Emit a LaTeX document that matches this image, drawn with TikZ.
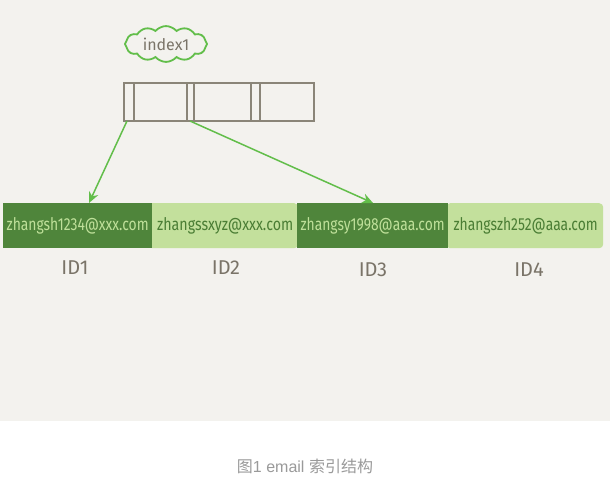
\documentclass[tikz,border=0pt]{standalone}
\usepackage{fontspec}
\setmainfont{Liberation Sans}
\newfontfamily\cjk{Noto Sans CJK SC}
\newfontfamily\hand{Fira Sans}
\usetikzlibrary{shapes.symbols,arrows.meta}
\definecolor{bgc}{HTML}{F3F2EE}
\definecolor{darkg}{HTML}{4F853B}
\definecolor{lightg}{HTML}{C3E09C}
\definecolor{txtlight}{HTML}{BFE09A}
\definecolor{txtdark}{HTML}{4A7D34}
\definecolor{arrowg}{HTML}{62BE4A}
\definecolor{boxline}{HTML}{8A8578}
\definecolor{idgray}{HTML}{7A7468}
\definecolor{capgray}{HTML}{9A9A9A}
\tikzset{
  darkcell/.style={fill=darkg, draw=none, inner sep=0pt, minimum height=45pt, anchor=north west},
  lightcell/.style={fill=lightg, draw=none, inner sep=0pt, minimum height=45pt, anchor=north west, rounded corners=4pt},
  emaild/.style={text=txtlight, font=\hand\fontsize{12}{12}\selectfont},
  emaill/.style={text=txtdark, font=\hand\fontsize{12}{12}\selectfont},
  idlabel/.style={text=idgray, font=\hand\fontsize{20}{20}\selectfont},
  cellbox/.style={draw=boxline, line width=1.8pt, inner sep=0pt, anchor=north west, minimum height=38pt},
  ptr/.style={draw=arrowg, line width=1.5pt, -{Stealth[length=11pt,width=10pt]}},
}
\begin{document}
\begin{tikzpicture}[x=1pt,y=-1pt]
\useasboundingbox (0,0) rectangle (610,489);
\fill[bgc] (0,0) rectangle (610,421);
\fill[white] (0,421) rectangle (610,489);
% index cloud
\node[cloud, cloud puffs=12, cloud puff arc=100, aspect=2.4, minimum width=82pt, minimum height=32pt, draw=arrowg, line width=1.8pt, inner sep=1pt, text=idgray, font=\hand\fontsize{16}{16}\selectfont] (cloud) at (166,44) {index1};
% index box cells
\node[cellbox, minimum width=10pt] (c1) at (123,82) {};
\node[cellbox, minimum width=53pt] (c2) at (133,82) {};
\node[cellbox, minimum width=7pt] (c3) at (186,82) {};
\node[cellbox, minimum width=57pt] (c4) at (193,82) {};
\node[cellbox, minimum width=9pt] (c5) at (250,82) {};
\node[cellbox, minimum width=54pt] (c6) at (259,82) {};
% email cells
\node[lightcell, minimum width=157pt] (r4) at (446,203) {};
\node[lightcell, minimum width=150pt] (r2) at (148,203) {};
\node[darkcell, minimum width=149pt] (r1) at (3,203) {};
\node[darkcell, minimum width=151pt] (r3) at (297,203) {};
\node[emaild] at (r1.center) {\resizebox{142pt}{13pt}{zhangsh1234@xxx.com}};
\node[emaill] at ([xshift=2pt]r2.center) {\resizebox{136pt}{13pt}{zhangssxyz@xxx.com}};
\node[emaild] at (r3.center) {\resizebox{144pt}{13pt}{zhangsy1998@aaa.com}};
\node[emaill] at ([xshift=1pt]r4.center) {\resizebox{144pt}{13pt}{zhangszh252@aaa.com}};
% ID labels
\node[idlabel] (id1) at (75,268) {ID1};
\node[idlabel] (id2) at (226,268) {ID2};
\node[idlabel] (id3) at (373,270) {ID3};
\node[idlabel] (id4) at (529,270) {ID4};
% pointers
\coordinate (p1) at (127,121);
\coordinate (p2) at (190,121);
\draw[ptr] (p1) -- (r1.north -| 89,0);
\draw[ptr] (p2) -- (r3.north -| 373,0);
% caption
\node[text=capgray, font=\fontsize{16}{16}\selectfont] (cap) at (305,466) {{\cjk 图}1 email {\cjk 索引结构}};
\end{tikzpicture}
\end{document}
